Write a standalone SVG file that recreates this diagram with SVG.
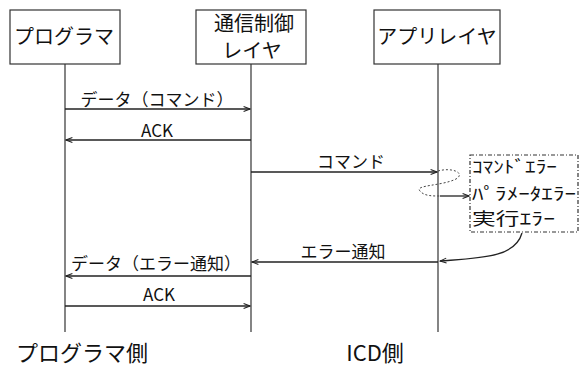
<svg xmlns="http://www.w3.org/2000/svg" width="579" height="376" viewBox="0 0 579 376">
<style>
.box{fill:#fff;stroke:#333;stroke-width:1.2}
.life{stroke:#333;stroke-width:1.2;fill:none}
.msg{stroke:#222;stroke-width:1.3;fill:none;marker-end:url(#ah)}
.t{font-family:"Noto Sans CJK JP","Liberation Sans",sans-serif;fill:#111}
.lbl{font-size:17px;text-anchor:middle}
.big{font-size:20px;text-anchor:middle}
.err{font-size:17px}
</style>
<defs>
<marker id="ah" viewBox="0 0 10 10" refX="9" refY="5" markerWidth="8" markerHeight="8" markerUnits="userSpaceOnUse" orient="auto">
<path d="M1,2 L9,5 L1,8" fill="none" stroke="#222" stroke-width="1.3"/>
</marker>
</defs>
<g id="programmer">
<rect class="box" x="10" y="10" width="110" height="54"/>
<text class="t big" x="64" y="44">プログラマ</text>
<line class="life" x1="65" y1="64" x2="65" y2="332"/>
</g>
<g id="comm">
<rect class="box" x="196" y="10" width="110" height="54"/>
<text class="t big" x="254" y="31" font-size="18.5">通信制御</text>
<text class="t big" x="252" y="58" font-size="18.5">レイヤ</text>
<line class="life" x1="251" y1="64" x2="251" y2="332"/>
</g>
<g id="app">
<rect class="box" x="374" y="10" width="126" height="54"/>
<text class="t big" x="437" y="44" font-size="19">アプリレイヤ</text>
<line class="life" x1="438" y1="64" x2="438" y2="332"/>
</g>
<g id="errors">
<rect x="470" y="155" width="108" height="77" fill="none" stroke="#333" stroke-width="1.2" stroke-dasharray="4,2,1,2"/>
<text class="t err" x="472" y="173" textLength="85" lengthAdjust="spacingAndGlyphs">ｺﾏﾝﾄﾞｴﾗｰ</text>
<text class="t err" x="472" y="200" textLength="104" lengthAdjust="spacingAndGlyphs">ﾊﾟﾗﾒｰﾀｴﾗｰ</text>
<text class="t err" x="472" y="225" textLength="83" lengthAdjust="spacingAndGlyphs">実行ｴﾗｰ</text>
</g>
<g id="connectors">
<line class="msg" x1="65" y1="109" x2="250" y2="109"/>
<text class="t lbl" x="157" y="106">データ（コマンド）</text>
<line class="msg" x1="251" y1="140" x2="66" y2="140"/>
<text class="t lbl" x="157" y="137" font-size="18">ACK</text>
<line class="msg" x1="251" y1="172" x2="437" y2="172"/>
<text class="t lbl" x="351" y="168" font-size="18">コマンド</text>
<path d="M438,171 C452,167 466,173 456,179 C442,186 414,185 420,191 C424,196 432,196 440,196" fill="none" stroke="#444" stroke-width="1" stroke-dasharray="2,2"/>
<line class="msg" x1="440" y1="196" x2="469" y2="196"/>
<path class="msg" d="M522,233 C515,258 480,258 440,261"/>
<line class="msg" x1="438" y1="262" x2="252" y2="262"/>
<text class="t lbl" x="343" y="258" font-size="19">エラー通知</text>
<line class="msg" x1="251" y1="276" x2="66" y2="276"/>
<text class="t lbl" x="156" y="270" font-size="17.5">データ（エラー通知）</text>
<line class="msg" x1="65" y1="306" x2="250" y2="306"/>
<text class="t lbl" x="159" y="301" font-size="18">ACK</text>
</g>
<text class="t" x="82" y="361" font-size="22" text-anchor="middle">プログラマ側</text>
<text class="t" x="375" y="361" font-size="22" text-anchor="middle">ICD側</text>
</svg>
